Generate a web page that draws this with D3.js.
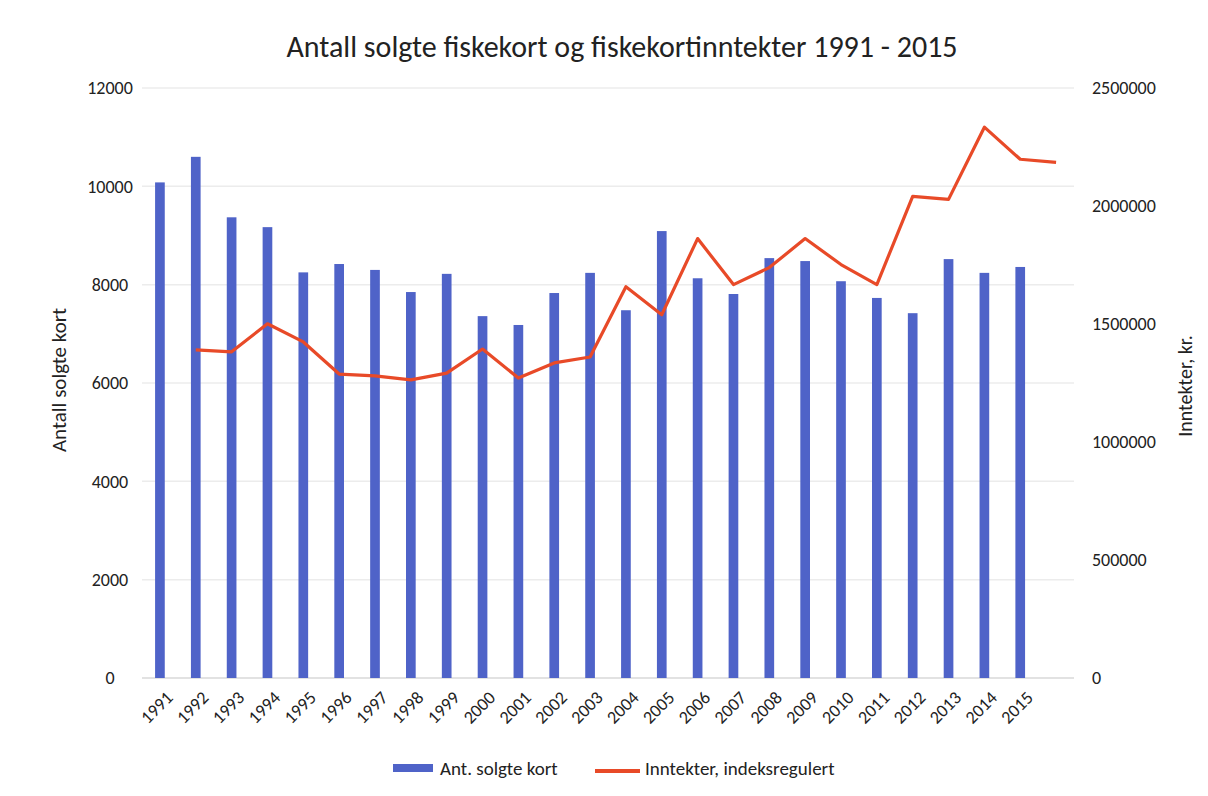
<!DOCTYPE html>
<html>
<head>
<meta charset="utf-8">
<script src="https://cdn.jsdelivr.net/npm/d3@7"></script>
<style>
  body { margin: 0; background: #fff; }
  svg { font-family: Carlito, Lato, "Open Sans", sans-serif; }
</style>
</head>
<body>
<div id="chart"></div>
<script>
// x slots: 25 years plus one unlabeled slot where the line ends
var categories = ["1991", "1992", "1993", "1994", "1995", "1996", "1997", "1998", "1999", "2000",
  "2001", "2002", "2003", "2004", "2005", "2006", "2007", "2008", "2009", "2010",
  "2011", "2012", "2013", "2014", "2015", ""];
var cards = [10080, 10600, 9370, 9170, 8250, 8420, 8300, 7850, 8220, 7360,
  7180, 7830, 8240, 7480, 9090, 8130, 7810, 8540, 8480, 8070,
  7730, 7420, 8520, 8240, 8360];
// line is drawn one slot to the right of the bars in the original
var income = [null, 1390000, 1382000, 1501000, 1424000, 1288000, 1280000, 1263000, 1292000, 1394000,
  1271000, 1335000, 1360000, 1658000, 1539000, 1862000, 1667000, 1739000, 1862000, 1752000,
  1667000, 2041000, 2028000, 2334000, 2198000, 2185000];
var leftTicks = [0, 2000, 4000, 6000, 8000, 10000, 12000];
var rightTicks = [0, 500000, 1000000, 1500000, 2000000, 2500000];

var width = 1208;
var height = 796;
var plotL = 142, plotR = 1074, plotT = 88, plotB = 678;
var barColor = "#4f63c8";
var lineColor = "#e84a28";
var textColor = "#222";
var font = "Carlito, Lato, sans-serif";

var svg = d3.select("#chart")
  .append("svg")
  .attr("width", width)
  .attr("height", height);

var x = d3.scaleBand()
  .domain(categories)
  .range([plotL, plotR])
  .padding(0);

var y = d3.scaleLinear().domain([0, 12000]).range([plotB, plotT]);
var y2 = d3.scaleLinear().domain([0, 2500000]).range([plotB, plotT]);

// gridlines
svg.append("g")
  .selectAll("line")
  .data(leftTicks)
  .enter()
  .append("line")
  .attr("x1", plotL)
  .attr("x2", plotR)
  .attr("y1", function (d) { return y(d); })
  .attr("y2", function (d) { return y(d); })
  .attr("stroke", function (d) { return d == 0 ? "#d9d9d9" : "#ececec"; })
  .attr("stroke-width", 1.5);

// left axis
var yAxis = svg.append("g")
  .attr("transform", "translate(110,0)")
  .call(d3.axisLeft(y).tickValues(leftTicks).tickSize(0).tickPadding(0).tickFormat(d3.format("d")));
yAxis.select(".domain").remove();
yAxis.selectAll("text")
  .attr("text-anchor", "middle")
  .attr("font-size", 18)
  .attr("fill", textColor)
  .attr("font-family", font);

// right axis
var y2Axis = svg.append("g")
  .attr("transform", "translate(1092,0)")
  .call(d3.axisRight(y2).tickValues(rightTicks).tickSize(0).tickPadding(0).tickFormat(d3.format("d")));
y2Axis.select(".domain").remove();
y2Axis.selectAll("text")
  .attr("font-size", 18)
  .attr("fill", textColor)
  .attr("font-family", font);

// x axis labels
var xAxis = svg.append("g")
  .attr("transform", "translate(0," + (plotB + 12) + ")")
  .call(d3.axisBottom(x).tickSize(0).tickPadding(0));
xAxis.select(".domain").remove();
xAxis.selectAll("text")
  .attr("font-size", 18)
  .attr("fill", textColor)
  .attr("font-family", font)
  .attr("text-anchor", "end")
  .attr("dy", "0.7em")
  .attr("transform", "translate(5,0) rotate(-45)");

// bars
var barW = x.bandwidth() * 0.27;
svg.append("g")
  .selectAll("rect")
  .data(cards)
  .enter()
  .append("rect")
  .attr("x", function (d, i) { return x(categories[i]) + x.bandwidth() / 2 - barW / 2; })
  .attr("y", function (d) { return y(d); })
  .attr("width", barW)
  .attr("height", function (d) { return plotB - y(d); })
  .attr("fill", barColor);

// line
var line = d3.line()
  .defined(function (d) { return d != null; })
  .x(function (d, i) { return x(categories[i]) + x.bandwidth() / 2; })
  .y(function (d) { return y2(d); });

svg.append("path")
  .datum(income)
  .attr("d", line)
  .attr("fill", "none")
  .attr("stroke", lineColor)
  .attr("stroke-width", 3.2)
  .attr("stroke-linejoin", "round");

// title
svg.append("text")
  .attr("x", 622)
  .attr("y", 57)
  .attr("text-anchor", "middle")
  .attr("font-size", 30)
  .attr("fill", textColor)
  .text("Antall solgte fiskekort og fiskekortinntekter 1991 - 2015");

// axis titles
svg.append("text")
  .attr("transform", "translate(66,380) rotate(-90)")
  .attr("text-anchor", "middle")
  .attr("font-size", 21)
  .attr("fill", textColor)
  .text("Antall solgte kort");

svg.append("text")
  .attr("transform", "translate(1192,386) rotate(-90)")
  .attr("text-anchor", "middle")
  .attr("font-size", 20)
  .attr("fill", textColor)
  .text("Inntekter, kr.");

// legend
var legend = svg.append("g");
legend.append("rect")
  .attr("x", 393).attr("y", 764)
  .attr("width", 40).attr("height", 8)
  .attr("fill", barColor);
legend.append("text")
  .attr("x", 440).attr("y", 775)
  .attr("font-size", 19)
  .attr("fill", textColor)
  .text("Ant. solgte kort");
legend.append("line")
  .attr("x1", 595).attr("x2", 640)
  .attr("y1", 771).attr("y2", 771)
  .attr("stroke", lineColor)
  .attr("stroke-width", 4);
legend.append("text")
  .attr("x", 645).attr("y", 775)
  .attr("font-size", 19)
  .attr("fill", textColor)
  .text("Inntekter, indeksregulert");
</script>
</body>
</html>
